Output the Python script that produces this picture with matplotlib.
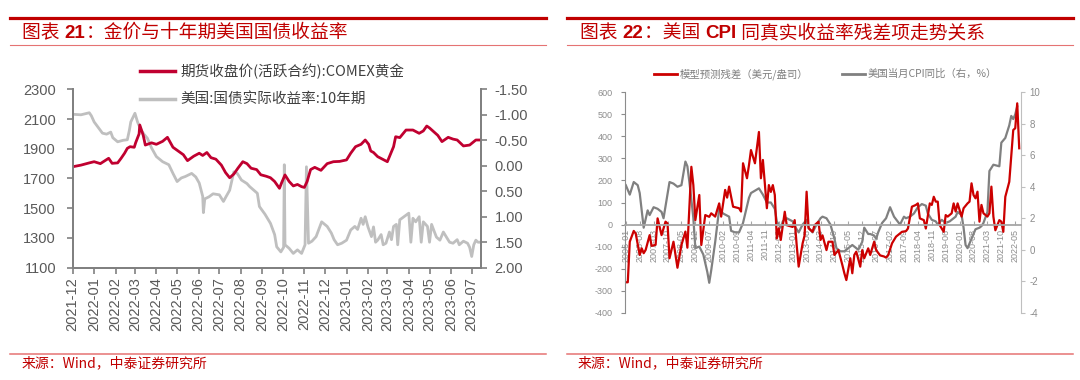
import numpy as np
import pandas as pd
import matplotlib
matplotlib.use('Agg')
import matplotlib.pyplot as plt
import matplotlib.dates as mdates
from matplotlib.lines import Line2D
from matplotlib.ticker import FormatStrFormatter

CJK = ['Noto Sans CJK SC', 'DejaVu Sans']
LAT = ['Liberation Sans', 'Noto Sans CJK SC', 'DejaVu Sans']
plt.rcParams['font.family'] = LAT
plt.rcParams['axes.unicode_minus'] = False

gold_dates = ['2021-12-01', '2021-12-13', '2021-12-25',
              '2022-01-01', '2022-01-10', '2022-01-22', '2022-01-27',
              '2022-02-04', '2022-02-09', '2022-02-14', '2022-02-18', '2022-02-22', '2022-02-28',
              '2022-03-02', '2022-03-07', '2022-03-08', '2022-03-13', '2022-03-16', '2022-03-25',
              '2022-04-01', '2022-04-10', '2022-04-17', '2022-04-25',
              '2022-05-01', '2022-05-10', '2022-05-16', '2022-05-25',
              '2022-06-02', '2022-06-07', '2022-06-13', '2022-06-19', '2022-06-26',
              '2022-07-04', '2022-07-10', '2022-07-16', '2022-07-22', '2022-07-28',
              '2022-08-04', '2022-08-10', '2022-08-16', '2022-08-24', '2022-08-30',
              '2022-09-07', '2022-09-13', '2022-09-19', '2022-09-26', '2022-09-29',
              '2022-10-04', '2022-10-10', '2022-10-16', '2022-10-22', '2022-10-28',
              '2022-11-01', '2022-11-05', '2022-11-10', '2022-11-16', '2022-11-25',
              '2022-12-04', '2022-12-13', '2022-12-22',
              '2023-01-01', '2023-01-07', '2023-01-14', '2023-01-22', '2023-01-28',
              '2023-02-02', '2023-02-05', '2023-02-09', '2023-02-15', '2023-02-22',
              '2023-03-01', '2023-03-10', '2023-03-13', '2023-03-19', '2023-03-28',
              '2023-04-07', '2023-04-16', '2023-04-22', '2023-04-27',
              '2023-05-01', '2023-05-07', '2023-05-13', '2023-05-19', '2023-05-28',
              '2023-06-04', '2023-06-10', '2023-06-19', '2023-06-28',
              '2023-07-07', '2023-07-14']
gold_px = [1779, 1790, 1805,
           1813, 1800, 1836, 1802,
           1805, 1836, 1870, 1903, 1914, 1910,
           1940, 2000, 2060, 1990, 1925, 1940,
           1930, 1950, 1977, 1910,
           1890, 1860, 1820, 1850,
           1870, 1855, 1875, 1840, 1830,
           1790, 1740, 1705, 1730, 1770,
           1813, 1800, 1769, 1760, 1725,
           1715, 1705, 1680, 1634, 1670,
           1724, 1680, 1650, 1660, 1645,
           1640, 1680, 1760, 1775, 1755,
           1800, 1813, 1815,
           1825, 1870, 1914, 1930, 1959,
           1930, 1885, 1875, 1847, 1830,
           1813, 1914, 1981, 1975, 2026,
           2026, 2004, 2020, 2053,
           2040, 2015, 1990, 1948, 1977,
           1965, 1959, 1919, 1925,
           1959, 1959]

ry_dates = ['2021-12-01', '2021-12-13', '2021-12-25', '2021-12-28',
            '2022-01-01', '2022-01-07', '2022-01-13', '2022-01-19', '2022-01-25', '2022-01-28',
            '2022-02-04', '2022-02-12', '2022-02-18', '2022-02-21', '2022-02-23',
            '2022-03-01', '2022-03-05', '2022-03-10', '2022-03-14', '2022-03-19', '2022-03-25',
            '2022-04-01', '2022-04-10', '2022-04-19', '2022-04-25',
            '2022-05-01', '2022-05-07', '2022-05-13', '2022-05-22', '2022-05-28',
            '2022-06-02', '2022-06-07', '2022-06-08', '2022-06-10', '2022-06-16', '2022-06-22',
            '2022-07-01', '2022-07-07', '2022-07-11', '2022-07-16', '2022-07-22', '2022-07-27',
            '2022-08-02', '2022-08-10', '2022-08-14', '2022-08-25', '2022-08-28',
            '2022-09-05', '2022-09-13', '2022-09-19', '2022-09-22', '2022-09-28',
            '2022-10-02', '2022-10-03', '2022-10-04', '2022-10-10', '2022-10-16', '2022-10-22', '2022-10-28',
            '2022-11-02', '2022-11-04', '2022-11-07', '2022-11-12', '2022-11-18', '2022-11-26',
            '2022-12-04', '2022-12-10', '2022-12-14', '2022-12-19', '2022-12-25',
            '2023-01-01', '2023-01-07', '2023-01-13', '2023-01-17', '2023-01-22', '2023-01-25', '2023-01-28',
            '2023-02-01', '2023-02-06', '2023-02-09', '2023-02-12', '2023-02-15', '2023-02-20', '2023-02-23', '2023-02-27',
            '2023-03-04', '2023-03-07', '2023-03-10', '2023-03-14', '2023-03-16', '2023-03-19', '2023-03-25',
            '2023-04-01', '2023-04-04', '2023-04-07', '2023-04-11', '2023-04-16', '2023-04-19', '2023-04-22', '2023-04-28',
            '2023-05-01', '2023-05-04', '2023-05-07', '2023-05-11', '2023-05-16', '2023-05-21', '2023-05-25', '2023-05-30',
            '2023-06-04', '2023-06-10', '2023-06-13', '2023-06-19', '2023-06-25', '2023-06-28',
            '2023-07-01', '2023-07-04', '2023-07-07', '2023-07-10', '2023-07-14']
ry_val = [-1.01, -1.00, -1.04, -0.98,
          -0.86, -0.75, -0.64, -0.62, -0.66, -0.55,
          -0.47, -0.50, -0.51, -0.70, -0.86,
          -1.03, -0.85, -0.70, -0.62, -0.54, -0.35,
          -0.18, -0.08, -0.02, 0.15,
          0.31, 0.24, 0.21, 0.15, 0.22,
          0.34, 0.60, 0.92, 0.65, 0.61, 0.55,
          0.57, 0.70, 0.60, 0.48, 0.12, 0.15,
          0.28, 0.35, 0.41, 0.54, 0.80,
          0.95, 1.13, 1.35, 1.59, 1.69,
          1.60, -0.02, 1.55, 1.62, 1.72, 1.65, 1.72,
          1.55, 0.02, 1.52, 1.48, 1.39, 1.10,
          1.19, 1.32, 1.45, 1.55, 1.52,
          1.46, 1.26, 1.19, 1.25, 1.03, 1.15, 1.00,
          1.20, 1.39, 1.20, 1.50, 1.46, 1.35, 1.55, 1.52,
          1.30, 1.45, 1.19, 1.15, 1.55, 1.06, 1.00,
          0.93, 1.50, 1.03, 1.10, 1.00, 1.50, 1.10, 1.19,
          1.50, 1.15, 1.26, 1.40, 1.46, 1.30, 1.39, 1.50,
          1.52, 1.45, 1.55, 1.48, 1.52, 1.60,
          1.78, 1.55, 1.46, 1.50, 1.50]

gold_ticks = [1100, 1300, 1500, 1700, 1900, 2100, 2300]
ry_ticks = [-1.5, -1.0, -0.5, 0.0, 0.5, 1.0, 1.5, 2.0]

# ---------------- right chart: model residual vs US CPI yoy (monthly)
resid_month = ['2006-01', '2006-02', '2006-03', '2006-05', '2006-06', '2006-08', '2006-09', '2006-10', '2006-11',
               '2007-01', '2007-02', '2007-04', '2007-05', '2007-07', '2007-09', '2007-10', '2007-11',
               '2008-01', '2008-03', '2008-05', '2008-07', '2008-08', '2008-10', '2008-11', '2008-12',
               '2009-02', '2009-03', '2009-05', '2009-07', '2009-08', '2009-10', '2009-12',
               '2010-01', '2010-03', '2010-04', '2010-05', '2010-07', '2010-10', '2010-11', '2010-12',
               '2011-02', '2011-03', '2011-04', '2011-06', '2011-08', '2011-09', '2011-10', '2011-12',
               '2012-01', '2012-02', '2012-03', '2012-04', '2012-05', '2012-06', '2012-07', '2012-09', '2012-10',
               '2013-01', '2013-02', '2013-03', '2013-04', '2013-06', '2013-07', '2013-08', '2013-09', '2013-11', '2013-12',
               '2014-02', '2014-03', '2014-04', '2014-06', '2014-07', '2014-09', '2014-10', '2014-12',
               '2015-02', '2015-03', '2015-04', '2015-06', '2015-07', '2015-08', '2015-09', '2015-11', '2015-12',
               '2016-01', '2016-03', '2016-04', '2016-06', '2016-07', '2016-09', '2016-11', '2016-12',
               '2017-01', '2017-03', '2017-05', '2017-08', '2017-10', '2017-11',
               '2018-01', '2018-03', '2018-04', '2018-05', '2018-07', '2018-08', '2018-10', '2018-11', '2018-12',
               '2019-01', '2019-02', '2019-03', '2019-05', '2019-06', '2019-07', '2019-09', '2019-10', '2019-11', '2019-12',
               '2020-02', '2020-03', '2020-05', '2020-06', '2020-07', '2020-08', '2020-09', '2020-10', '2020-11', '2020-12',
               '2021-01', '2021-03', '2021-04', '2021-05', '2021-06', '2021-07', '2021-09', '2021-10', '2021-11', '2021-12',
               '2022-02', '2022-04', '2022-05', '2022-06', '2022-07']
resid_val = [-262, -262, -78, -29, -41, -138, -108, -130, -115,
             -48, -97, -92, 28, -48, 13, 5, -153,
             -78, -196, -93, -32, -105, 262, 179, 20,
             134, -93, 43, 35, 51, 36, 96,
             36, 157, 122, 172, 81, 74, 59, 278,
             210, 270, 338, 278, 420, 210, 293, 74,
             179, 148, 179, 134, -63, -17, -70, 58, -3,
             -11, 20, -93, -191, -85, -49, 149, -17, -33, -3,
             13, -70, -49, -116, -78, -78, -138, -116,
             -184, -221, -252, -153, -221, -138, -123, -191, -116,
             -153, -108, -138, -78, -116, -140, -145, -150,
             -140, -85, -55, -33, -30, -18,
             81, 89, 96, 28, 20, -18, 96, 89, 126,
             104, 104, -3, -33, 43, 36, 51, 96, 59, 96,
             36, 74, 96, 104, 187, 134, 119, 149, 13, 89,
             51, 36, 51, 172, 36, -26, 20, 13, -33, 126,
             194, 429, 437, 550, 346]

cpi_month = ['2006-01', '2006-03', '2006-05', '2006-07', '2006-08', '2006-10', '2006-12',
             '2007-01', '2007-03', '2007-05', '2007-07', '2007-08', '2007-11',
             '2008-01', '2008-03', '2008-05', '2008-07', '2008-08', '2008-09', '2008-10', '2008-11', '2008-12',
             '2009-02', '2009-04', '2009-06', '2009-07', '2009-08', '2009-10', '2009-12',
             '2010-02', '2010-05', '2010-06', '2010-08', '2010-10', '2010-12',
             '2011-03', '2011-04', '2011-08', '2011-10', '2011-12',
             '2012-02', '2012-04', '2012-05', '2012-07', '2012-08', '2012-10',
             '2013-01', '2013-02', '2013-04', '2013-06', '2013-08', '2013-09', '2013-11',
             '2014-01', '2014-03', '2014-04', '2014-06', '2014-08', '2014-10', '2014-11',
             '2015-01', '2015-03', '2015-05', '2015-07', '2015-08', '2015-10', '2015-12',
             '2016-01', '2016-03', '2016-04', '2016-06', '2016-07', '2016-08', '2016-10', '2016-12',
             '2017-02', '2017-04', '2017-07', '2017-09', '2017-10', '2017-12',
             '2018-02', '2018-04', '2018-06', '2018-08', '2018-09', '2018-11',
             '2019-01', '2019-02', '2019-04', '2019-06', '2019-08', '2019-11', '2019-12',
             '2020-02', '2020-03', '2020-04', '2020-05', '2020-07', '2020-09', '2020-11', '2020-12',
             '2021-01', '2021-03', '2021-04', '2021-06', '2021-09', '2021-10', '2021-12',
             '2022-01', '2022-02', '2022-03', '2022-04', '2022-05', '2022-06']
cpi_val = [4.1, 3.5, 4.3, 4.1, 3.6, 1.4, 2.5,
           2.2, 2.7, 2.6, 2.4, 2.0, 4.3,
           4.2, 4.0, 4.1, 5.6, 5.3, 4.3, 3.2, 2.0, 0.1,
           0.2, -0.3, -1.4, -2.1, -1.3, 0.5, 2.6,
           2.3, 2.1, 1.2, 1.1, 1.1, 1.7,
           3.3, 3.6, 3.9, 3.5, 3.0,
           3.0, 2.6, 1.8, 1.4, 1.8, 2.0,
           1.8, 1.5, 1.1, 1.6, 1.9, 1.4, 1.1,
           1.6, 2.0, 2.1, 2.0, 1.6, 0.7, 0.1,
           -0.1, -0.1, 0.1, 0.3, 0.2, 0.0, 0.5,
           1.4, 1.0, 1.0, 0.9, 0.7, 1.1, 1.7, 2.0,
           2.7, 2.1, 1.6, 2.1, 2.0, 2.1,
           2.3, 2.7, 2.9, 2.8, 2.3, 1.9,
           1.8, 1.6, 1.9, 1.7, 1.8, 2.1, 2.4,
           2.2, 1.4, 0.3, 0.1, 0.7, 1.3, 1.4, 1.5,
           1.7, 2.4, 5.0, 5.4, 5.3, 6.8, 7.1,
           7.5, 7.9, 8.5, 8.3, 8.6, 9.1]

cat_labels = ['2006-01', '2006-08', '2007-03', '2007-10', '2008-05', '2008-12', '2009-07',
              '2010-02', '2010-09', '2011-04', '2011-11', '2012-06', '2013-01', '2013-08',
              '2014-03', '2014-10', '2015-05', '2015-12', '2016-07', '2017-02', '2017-09',
              '2018-04', '2018-11', '2019-06', '2020-01', '2020-08', '2021-03', '2021-10', '2022-05']
resid_ticks = [-400, -300, -200, -100, 0, 100, 200, 300, 400, 500, 600]
cpi_ticks = [-4, -2, 0, 2, 4, 6, 8, 10]


def month_pos(m):
    # position of a month on the category axis (2006-01 -> 0)
    p = pd.Period(m, freq='M')
    return (p.year - 2006) * 12 + p.month - 1


W, H = 1080, 380
def fx(x): return x / W
def fy(y): return 1 - y / H


fig = plt.figure(figsize=(10.8, 3.8), dpi=100)
bg = fig.add_axes([0, 0, 1, 1])
bg.axis('off')

TRED = '#C00000'
PALE = '#E57373'

# frame lines
for x0, x1 in [(10, 546), (567, 1073)]:
    fig.add_artist(Line2D([fx(x0), fx(x1)], [fy(18), fy(18)], color=TRED, lw=2.3))
    fig.add_artist(Line2D([fx(x0), fx(x1)], [fy(44.5), fy(44.5)], color=PALE, lw=0.8))
    fig.add_artist(Line2D([fx(x0), fx(x1)], [fy(354), fy(354)], color=PALE, lw=1.1))


def title(x, y, parts):
    prev = bg.text(fx(x), fy(y), parts[0][0], transform=fig.transFigure, fontsize=13.5,
                   color=TRED, fontweight=parts[0][1], va='bottom', family=LAT)
    for s, w in parts[1:]:
        prev = bg.annotate(s, xy=(1, 0), xycoords=prev, va='bottom', ha='left', fontsize=13.5,
                           color=TRED, fontweight=w, family=LAT)


title(22, 42, [('图表 ', 'normal'), ('21', 'bold'), ('：金价与十年期美国国债收益率', 'normal')])
title(580, 42, [('图表 ', 'normal'), ('22', 'bold'), ('：美国 ', 'normal'), ('CPI', 'bold'),
                (' 同真实收益率残差项走势关系', 'normal')])

for x in (21.7, 578):
    fig.text(fx(x), fy(363.5), '来源：Wind，中泰证券研究所', fontsize=10, color=TRED,
             va='center', family=CJK)

# ---------------- left chart
GOLD = '#C00030'
RYC = '#BFBFBF'
axL = fig.add_axes([fx(72.7), fy(267.7), (480.7 - 72.7) / W, (267.7 - 89.3) / H])
axL2 = axL.twinx()
axL.set_zorder(axL2.get_zorder() + 1)
axL.patch.set_visible(False)

axL.plot(pd.to_datetime(gold_dates), gold_px, color=GOLD, lw=2.0)
axL2.plot(pd.to_datetime(ry_dates), ry_val, color=RYC, lw=2.0)

axL.set_ylim(1100, 2300)
axL.set_yticks(gold_ticks)
axL2.set_ylim(2.0, -1.5)
axL2.set_yticks(ry_ticks)
axL2.yaxis.set_major_formatter(FormatStrFormatter('%.2f'))
axL.set_xlim(pd.Timestamp('2021-12-01'), pd.Timestamp('2023-07-14'))
axL.xaxis.set_major_locator(mdates.MonthLocator())
axL.xaxis.set_major_formatter(mdates.DateFormatter('%Y-%m'))

for a in (axL, axL2):
    a.spines['top'].set_visible(False)
    for s in ('left', 'right', 'bottom'):
        a.spines[s].set_color('#808080')
        a.spines[s].set_linewidth(1.3)
axL.tick_params(axis='y', direction='out', length=4, width=1.2, color='#808080',
                labelsize=10.5, labelcolor='#595959', pad=8)
axL.tick_params(axis='x', direction='out', length=4, width=1.2, color='#808080',
                labelsize=10.5, labelcolor='#595959', labelrotation=90, pad=3)
axL2.tick_params(axis='y', direction='out', length=4, width=1.2, color='#808080',
                 labelsize=10.5, labelcolor='#595959', pad=6)

# legend of the left chart
fig.add_artist(Line2D([fx(140), fx(175)], [fy(71), fy(71)], color=GOLD, lw=2.5))
fig.text(fx(180), fy(71), '期货收盘价(活跃合约):COMEX黄金', fontsize=10.5, color='#404040',
         va='center', family=CJK)
fig.add_artist(Line2D([fx(140), fx(175)], [fy(99), fy(99)], color=RYC, lw=2.5))
fig.text(fx(180), fy(99), '美国:国债实际收益率:10年期', fontsize=10.5, color='#404040',
         va='center', family=CJK)

# ---------------- right chart
RRED = '#CC0000'
CPIC = '#808080'
axR = fig.add_axes([fx(625), fy(312.7), (1021 - 625) / W, (312.7 - 92.3) / H])
axR2 = axR.twinx()
axR.set_zorder(axR2.get_zorder() + 1)
axR.patch.set_visible(False)

axR.plot([month_pos(m) for m in resid_month], resid_val, color=RRED, lw=1.6)
axR2.plot([month_pos(m) for m in cpi_month], cpi_val, color=CPIC, lw=1.6)

axR.set_xlim(-0.4, 198.9)
axR.set_ylim(-400, 600)
axR.set_yticks(resid_ticks)
axR2.set_ylim(-4, 10)
axR2.set_yticks(cpi_ticks)
axR.set_xticks([month_pos(m) for m in cat_labels])
axR.set_xticklabels(cat_labels)

axR.spines['bottom'].set_position(('data', 0))
axR.spines['bottom'].set_color('#A6A6A6')
axR.spines['bottom'].set_linewidth(1.3)
axR.spines['left'].set_color('#8C8C8C')
axR.spines['right'].set_visible(False)
axR.spines['top'].set_visible(False)
for s in ('top', 'bottom', 'left'):
    axR2.spines[s].set_visible(False)
axR2.spines['right'].set_color('#BFBFBF')

axR.tick_params(axis='y', direction='out', length=3, color='#8C8C8C',
                labelsize=6.5, labelcolor='#8C8C8C', pad=6)
axR.tick_params(axis='x', direction='in', length=3, color='#A6A6A6',
                labelsize=6.5, labelcolor='#8C8C8C', labelrotation=90, pad=3)
axR2.tick_params(axis='y', direction='out', length=3, color='#BFBFBF',
                 labelsize=7, labelcolor='#8C8C8C', pad=3)

# legend of the right chart
fig.add_artist(Line2D([fx(654), fx(677)], [fy(74), fy(74)], color=RRED, lw=2))
fig.text(fx(680), fy(74), '模型预测残差（美元/盎司）', fontsize=7.5, color='#7F7F7F',
         va='center', family=CJK)
fig.add_artist(Line2D([fx(842), fx(865)], [fy(74), fy(74)], color=CPIC, lw=2))
fig.text(fx(868), fy(74), '美国当月CPI同比（右，%）', fontsize=7.5, color='#7F7F7F',
         va='center', family=CJK)

fig.savefig('out.png', dpi=100)
